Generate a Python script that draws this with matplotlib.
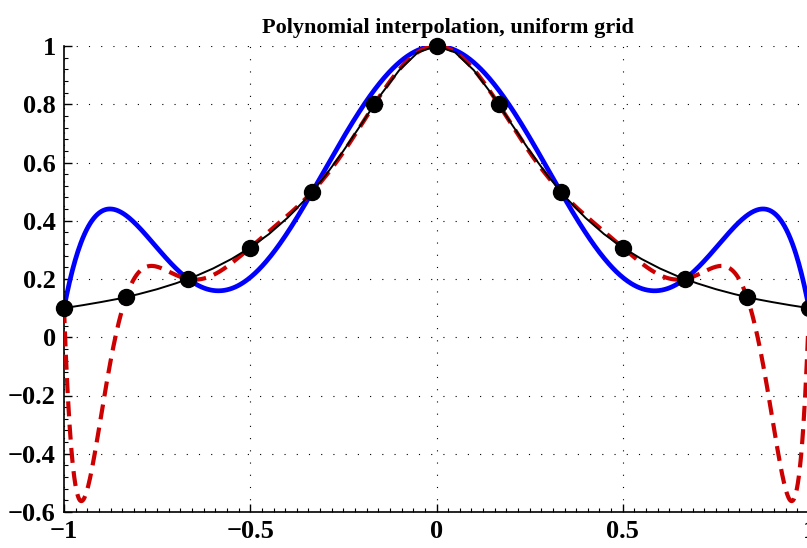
import numpy as np
import matplotlib
matplotlib.use("Agg")
import matplotlib.pyplot as plt
from matplotlib.ticker import MultipleLocator

# Interpolation nodes (uniform grid)
x_nodes = [-1.0, -0.8333, -0.6667, -0.5, -0.3333, -0.1667, 0.0,
           0.1667, 0.3333, 0.5, 0.6667, 0.8333, 1.0]
y_nodes = [0.1, 0.1385, 0.2, 0.3077, 0.5, 0.8, 1.0,
           0.8, 0.5, 0.3077, 0.2, 0.1385, 0.1]

# Underlying function (black curve)
x_true = [-1.0, -0.95, -0.9, -0.85, -0.8, -0.75, -0.7, -0.65, -0.6, -0.55, -0.5,
          -0.45, -0.4, -0.35, -0.3, -0.25, -0.2, -0.15, -0.1, -0.05, 0.0,
          0.05, 0.1, 0.15, 0.2, 0.25, 0.3, 0.35, 0.4, 0.45, 0.5,
          0.55, 0.6, 0.65, 0.7, 0.75, 0.8, 0.85, 0.9, 0.95, 1.0]
y_true = [0.100, 0.110, 0.121, 0.133, 0.148, 0.165, 0.185, 0.208, 0.236, 0.269, 0.308,
          0.354, 0.410, 0.476, 0.552, 0.640, 0.735, 0.832, 0.917, 0.978, 1.000,
          0.978, 0.917, 0.832, 0.735, 0.640, 0.552, 0.476, 0.410, 0.354, 0.308,
          0.269, 0.236, 0.208, 0.185, 0.165, 0.148, 0.133, 0.121, 0.110, 0.100]

x_ticks = [-1, -0.5, 0, 0.5, 1]
y_ticks = [-0.6, -0.4, -0.2, 0, 0.2, 0.4, 0.6, 0.8, 1]
title = "Polynomial interpolation, uniform grid"

plt.rcParams['font.family'] = ['Liberation Serif', 'DejaVu Serif']
plt.rcParams['font.weight'] = 'bold'

fig = plt.figure(figsize=(8.07, 5.48), dpi=100)
ax = fig.add_axes([64/807, 36/548, 745/807, 466/548])

xn = np.array(x_nodes)
yn = np.array(y_nodes)
xx = np.linspace(-1, 1, 801)
p7 = np.polynomial.Polynomial.fit(xn[::2], yn[::2], 6)
p13 = np.polynomial.Polynomial.fit(xn, yn, 12)

ax.plot(xx, p7(xx), color=(0, 0, 1), lw=3.4, zorder=2)
ax.plot(xx, p13(xx), color=(0.8, 0, 0), lw=3.0, ls=(0, (3.6, 2.0)), zorder=3)
ax.plot(x_true, y_true, color='k', lw=1.4, zorder=4)
ax.plot(x_nodes, y_nodes, 'o', color='k', ms=11.5, zorder=5, clip_on=False)

ax.set_xlim(-1, 1)
ax.set_ylim(-0.6, 1)
ax.set_xticks(x_ticks)
ax.set_yticks(y_ticks)
ax.set_xticklabels(['\u22121', '\u22120.5', '0', '0.5', '1'])
ax.set_yticklabels(['\u22120.6', '\u22120.4', '\u22120.2', '0', '0.2', '0.4', '0.6', '0.8', '1'])
ax.xaxis.set_minor_locator(MultipleLocator(0.03125))
ax.yaxis.set_minor_locator(MultipleLocator(0.04))
ax.tick_params(axis='both', which='major', direction='in', length=6, width=1,
               labelsize=19, pad=6)
ax.tick_params(axis='both', which='minor', direction='in', length=3, width=0.8)
for lab in ax.get_xticklabels() + ax.get_yticklabels():
    lab.set_fontweight('bold')

ax.grid(True, which='major', color='k', ls=(0, (1, 10)), lw=0.8)
for s in ['top', 'right']:
    ax.spines[s].set_visible(False)
for s in ['left', 'bottom']:
    ax.spines[s].set_linewidth(1.2)

ax.set_title(title, fontsize=16, fontweight='bold', pad=9)
ax.title.set_x(0.516)

fig.savefig('out.png', dpi=100)
